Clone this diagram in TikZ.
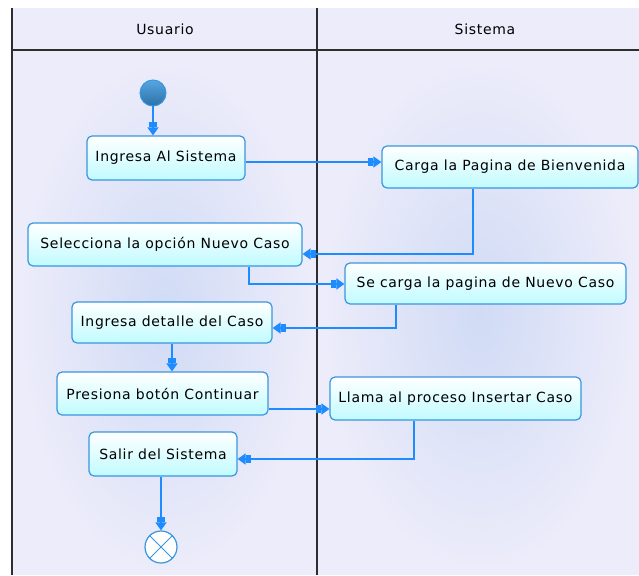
\documentclass[tikz,border=0pt]{standalone}
\usepackage{fontspec}
\usepackage{xcolor}
\usetikzlibrary{arrows.meta,calc}
\newfontfamily\umlfont[LetterSpace=5]{DejaVu Sans}
\definecolor{lane}{HTML}{ECECFA}
\definecolor{glow}{HTML}{D0DBF5}
\definecolor{boxline}{HTML}{3A96DD}
\definecolor{boxfill}{HTML}{C0FBFF}
\definecolor{flow}{HTML}{1E8BFF}
\definecolor{edge}{HTML}{2E2E2E}

\begin{document}
\begin{tikzpicture}[x=1pt,y=-1pt,
  act/.style={draw=boxline, line width=1.2pt, rounded corners=5pt, top color=white, bottom color=boxfill, minimum height=42pt, inner sep=2pt, font=\umlfont\fontsize{14}{16}\selectfont, text=black},
  hdr/.style={font=\umlfont\fontsize{14}{16}\selectfont, text=black},
  arr/.style={flow, line width=1.4pt, -{Rectangle[length=5pt,width=8pt,sep=0pt]Triangle[length=8pt,width=11pt]}}
]
\useasboundingbox (0,0) rectangle (639,575);
% swimlanes
\fill[lane] (12,8) rectangle (639,575);
\shade[inner color=glow, outer color=lane] (20,60) rectangle (310,570);
\shade[inner color=glow, outer color=lane] (325,60) rectangle (635,570);
\draw[edge, line width=1.5pt] (12,8) -- (12,575) (317,8) -- (317,575) (12,50) -- (639,50);
\node[hdr] (usuario) at (165,29) {Usuario};
\node[hdr] (sistema) at (485,29) {Sistema};

% actividades
\node[circle, minimum size=26pt, inner sep=0pt, draw=boxline, line width=1pt, top color=boxline!85, bottom color=boxline!75!black] (ini) at (153,93) {};
\node[act, minimum width=158pt, minimum height=44pt] (ingresa) at (166,158) {Ingresa Al Sistema};
\node[act, minimum width=256pt] (carga) at (510,167) {Carga la Pagina de Bienvenida};
\node[act, minimum width=274pt, minimum height=43pt] (selecciona) at (165,244.5) {Selecciona la opción Nuevo Caso};
\node[act, minimum width=281pt, minimum height=41pt] (secarga) at (485.5,283.5) {Se carga la pagina de Nuevo Caso};
\node[act, minimum width=200pt, minimum height=41pt] (detalle) at (172,322.5) {Ingresa detalle del Caso};
\node[act, minimum width=211pt, minimum height=43pt] (presiona) at (162.5,393.5) {Presiona botón Continuar};
\node[act, minimum width=251pt, minimum height=43pt] (llama) at (455.5,398.5) {Llama al proceso Insertar Caso};
\node[act, minimum width=148pt, minimum height=44pt] (salir) at (163,454) {Salir del Sistema};
\node[circle, minimum size=32pt, inner sep=0pt, draw=boxline, line width=1.2pt, fill=white] (fin) at (161,547) {};
\draw[boxline, line width=1pt] (fin.north west) -- (fin.south east) (fin.north east) -- (fin.south west);

% flujo
\draw[arr] (ini) -- (ini |- ingresa.north);
\draw[arr] ([yshift=-4pt]ingresa.east) -- ([yshift=-4pt]ingresa.east -| carga.west);
\draw[arr] ([xshift=-37pt]carga.south) |- ([yshift=-9.5pt]selecciona.east);
\draw[arr] ([xshift=84pt]selecciona.south) |- ([yshift=-0.5pt]secarga.west);
\draw[arr] ([xshift=-89.5pt]secarga.south) |- ([yshift=-5.5pt]detalle.east);
\draw[arr] (detalle.south) -- (detalle.south |- presiona.north);
\draw[arr] ([yshift=-15.5pt]presiona.east) -- ([yshift=-15.5pt]presiona.east -| llama.west);
\draw[arr] ([xshift=-41.5pt]llama.south) |- ([yshift=-5pt]salir.east);
\draw[arr] (fin |- salir.south) -- (fin);
\end{tikzpicture}
\end{document}
